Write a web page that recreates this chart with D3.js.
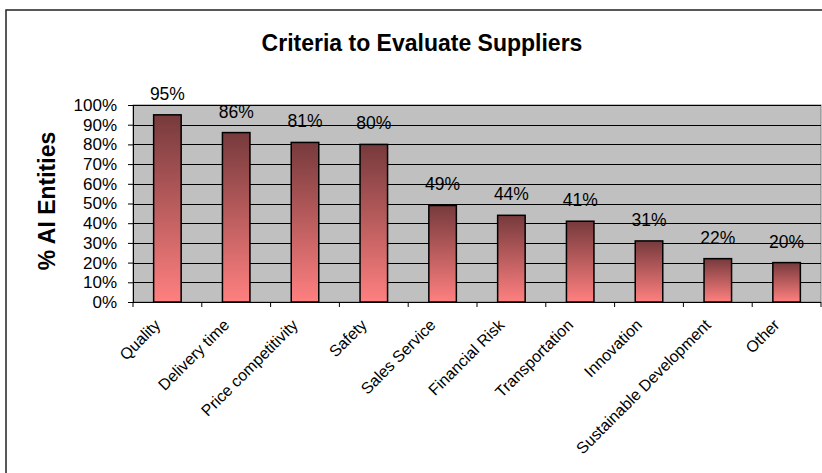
<!DOCTYPE html>
<html><head><meta charset="utf-8">
<script src="https://cdn.jsdelivr.net/npm/d3@7"></script>
<style>body{margin:0;background:#fff}svg{display:block}text{font-family:"Liberation Sans",Arial,sans-serif}</style>
</head><body>
<script>
const categories = ["Quality","Delivery time","Price competitivity","Safety","Sales Service","Financial Risk","Transportation","Innovation","Sustainable Development","Other"];
const values = [95,86,81,80,49,44,41,31,22,20];
const yTicks = [0,10,20,30,40,50,60,70,80,90,100];
const title = "Criteria to Evaluate Suppliers";
const yTitle = "% AI Entities";

const W=822,H=473;
const svg=d3.select("body").append("svg").attr("width",W).attr("height",H);
const defs=svg.append("defs");
const g=defs.append("linearGradient").attr("id","bg").attr("x1",0).attr("y1",0).attr("x2",0).attr("y2",1);
g.append("stop").attr("offset","0%").attr("stop-color","#773a3c");
g.append("stop").attr("offset","100%").attr("stop-color","#ff8080");

svg.append("rect").attr("x",6).attr("y",10).attr("width",900).attr("height",700).attr("fill","#fff").attr("stroke","#222").attr("stroke-width",1.5);

const L=133,R=821,T=105,B=302;
const x=d3.scaleBand().domain(categories).range([L,R]).paddingInner(0.6).paddingOuter(0.3);
const y=d3.scaleLinear().domain([0,100]).range([B,T]);

svg.append("rect").attr("x",L).attr("y",T).attr("width",R-L).attr("height",B-T).attr("fill","#c0c0c0").attr("stroke","#808080");
svg.append("g").selectAll("line").data(yTicks.filter(d=>d>0)).join("line")
 .attr("x1",L).attr("x2",R).attr("y1",d=>Math.round(y(d))+0.5).attr("y2",d=>Math.round(y(d))+0.5).attr("stroke","#000");

svg.append("text").attr("x",422).attr("y",51).attr("text-anchor","middle").attr("font-size",23).attr("font-weight","bold").text(title);

// y axis
const ya=svg.append("g").attr("transform",`translate(${L},0)`).call(d3.axisLeft(y).tickValues(yTicks).tickFormat(d=>d+"%").tickSize(5).tickPadding(11));
ya.selectAll("text").attr("font-size",17).attr("fill","#000").style("font-family","Liberation Sans, Arial, sans-serif");
ya.select(".domain").attr("stroke","#000");
ya.selectAll(".tick line").attr("stroke","#000");

svg.append("text").attr("transform","translate(55,201) rotate(-90)").attr("text-anchor","middle").attr("font-size",23).attr("font-weight","bold").text(yTitle);

// bars
svg.append("g").selectAll("rect").data(values).join("rect")
 .attr("x",(d,i)=>x(categories[i])).attr("width",x.bandwidth())
 .attr("y",d=>y(d)).attr("height",d=>B-y(d))
 .attr("fill","url(#bg)").attr("stroke","#000").attr("stroke-width",1.5);

svg.append("g").selectAll("text").data(values).join("text")
 .attr("x",(d,i)=>x(categories[i])+x.bandwidth()/2).attr("y",d=>y(d)-15)
 .attr("text-anchor","middle").attr("font-size",17.5).text(d=>d+"%");

// x axis
svg.append("line").attr("x1",L).attr("x2",R).attr("y1",B+0.5).attr("y2",B+0.5).attr("stroke","#000");
const step=(R-L)/categories.length;
svg.append("g").selectAll("line").data(d3.range(categories.length+1)).join("line")
 .attr("x1",i=>L+i*step).attr("x2",i=>L+i*step).attr("y1",B).attr("y2",B+5).attr("stroke","#000");

svg.append("g").selectAll("text").data(categories).join("text")
 .attr("transform",d=>`translate(${x(d)+x.bandwidth()/2-6},${B+24}) rotate(-45)`)
 .attr("text-anchor","end").attr("font-size",16).text(d=>d);
</script>
</body></html>
